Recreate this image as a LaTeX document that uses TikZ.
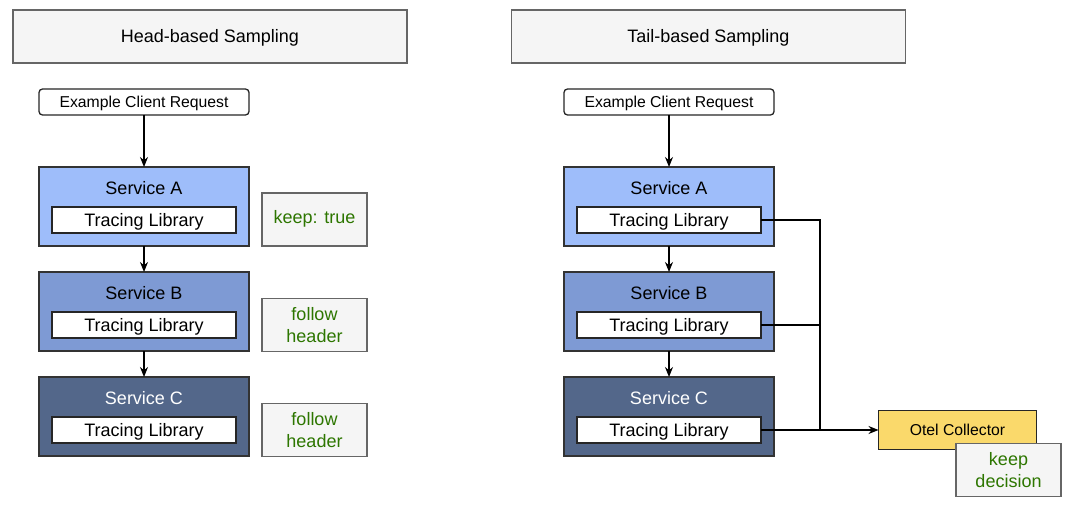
\documentclass[tikz,border=0pt]{standalone}
\usepackage{fontspec}
\setmainfont{Liberation Sans}
\usetikzlibrary{arrows.meta}
\definecolor{cA}{RGB}{158,189,250}
\definecolor{cB}{RGB}{126,154,212}
\definecolor{cC}{RGB}{83,103,138}
\definecolor{noteFill}{RGB}{245,245,245}
\definecolor{noteLine}{RGB}{102,102,102}
\definecolor{greenTxt}{RGB}{45,118,0}
\definecolor{collFill}{RGB}{250,217,107}
\tikzset{
  base/.style={draw, line width=1.3pt, inner sep=0pt, outer sep=0pt, align=center},
  big/.style={font=\fontsize{18}{21}\selectfont, text height=13pt, text depth=0pt},
  small/.style={font=\fontsize{15.75}{18}\selectfont, text height=11.4pt, text depth=0pt},
  titlebox/.style={base, big, draw=noteLine, fill=noteFill, minimum width=394, minimum height=53},
  reqbox/.style={base, small, draw=black!85, fill=white, rounded corners=3.5pt, minimum width=210, minimum height=26},
  svcbox/.style={base, draw=black!80, minimum width=210, minimum height=79},
  svctitle/.style={big, inner sep=0pt},
  libbox/.style={base, big, draw=black!85, fill=white, minimum width=184, minimum height=26},
  notebox/.style={base, draw=noteLine, fill=noteFill, minimum width=105, minimum height=53, text=greenTxt, font=\fontsize{18}{22}\selectfont},
  collbox/.style={base, small, draw=black!85, fill=collFill, minimum width=158, minimum height=39},
  conn/.style={line width=1.3pt, draw=black},
  arr/.style={conn, -{Stealth[length=10pt,width=8pt]}},
}
\begin{document}
\begin{tikzpicture}[x=1pt,y=-1pt]
\useasboundingbox (0,0) rectangle (1076,505);
% titles
\node[titlebox] (tL) at (210,36.5) {Head-based Sampling};
\node[titlebox] (tR) at (708.5,36.5) {Tail-based Sampling};

% ---------- left side ----------
\node[reqbox] (rL) at (144,102) {Example Client Request};
\node[svcbox, fill=cA] (sAL) at (144,206.5) {};
\node[svcbox, fill=cB] (sBL) at (144,311.5) {};
\node[svcbox, fill=cC] (sCL) at (144,416.5) {};
\node[svctitle] (nAL) at ([yshift=-21pt]sAL.north) {Service A};
\node[svctitle] (nBL) at ([yshift=-21pt]sBL.north) {Service B};
\node[svctitle, text=white] (nCL) at ([yshift=-21pt]sCL.north) {Service C};
\node[libbox] (lAL) at (144,220) {Tracing Library};
\node[libbox] (lBL) at (144,325) {Tracing Library};
\node[libbox] (lCL) at (144,430) {Tracing Library};
\node[notebox] (kL) at (314.5,219.5) {\strut keep: true};
\node[notebox] (fB) at (314.5,325) {follow\\header};
\node[notebox] (fC) at (314.5,430) {follow\\header};
\draw[arr] (rL.south) -- (sAL.north);
\draw[arr] (sAL.south) -- (sBL.north);
\draw[arr] (sBL.south) -- (sCL.north);

% ---------- right side ----------
\node[reqbox] (rR) at (669,102) {Example Client Request};
\node[svcbox, fill=cA] (sAR) at (669,206.5) {};
\node[svcbox, fill=cB] (sBR) at (669,311.5) {};
\node[svcbox, fill=cC] (sCR) at (669,416.5) {};
\node[svctitle] (nAR) at ([yshift=-21pt]sAR.north) {Service A};
\node[svctitle] (nBR) at ([yshift=-21pt]sBR.north) {Service B};
\node[svctitle, text=white] (nCR) at ([yshift=-21pt]sCR.north) {Service C};
\node[libbox] (lAR) at (669,220) {Tracing Library};
\node[libbox] (lBR) at (669,325) {Tracing Library};
\node[libbox] (lCR) at (669,430) {Tracing Library};
\draw[arr] (rR.south) -- (sAR.north);
\draw[arr] (sAR.south) -- (sBR.north);
\draw[arr] (sBR.south) -- (sCR.north);

\node[collbox] (col) at (957.5,430) {Otel Collector};
\node[notebox] (kd) at (1008.5,470) {keep\\decision};
\coordinate (j) at (820,430);
\draw[conn] (lAR.east) -| (j);
\draw[conn] (lBR.east) -| (j);
\draw[arr] (lCR.east) -- (col.west);
\end{tikzpicture}
\end{document}
